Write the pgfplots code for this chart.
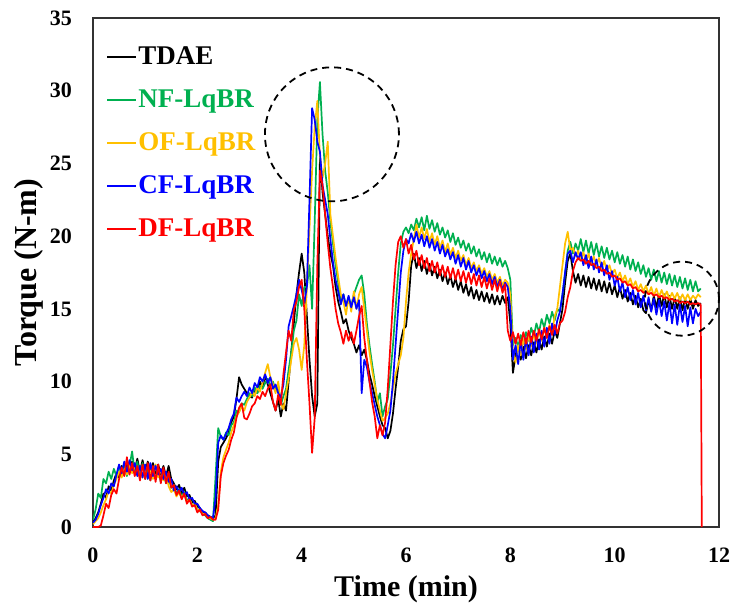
\documentclass[border=0pt]{standalone}
\usepackage{fontspec}
\setmainfont{Liberation Serif}
\usepackage{pgfplots}
\usepackage{pgfplotstable}
\pgfplotsset{compat=1.18}
\usetikzlibrary{calc}
\definecolor{cgreen}{HTML}{00B050}
\definecolor{corange}{HTML}{FFC000}
\definecolor{cblue}{HTML}{0000FF}
\definecolor{cred}{HTML}{FF0000}

% t  TDAE  NF  OF  CF  DF
\pgfplotstableread{
t T G O B R
0.00 0.3 0.5 0.2 0.3 0.0
0.05 0.6 1.2 0.4 0.5 0.0
0.10 1.0 2.3 0.6 0.9 0.0
0.15 1.6 2.0 1.0 1.5 0.1
0.20 2.3 3.3 1.5 2.0 0.8
0.25 2.0 3.0 1.9 2.6 1.6
0.30 2.8 3.8 2.5 2.3 1.3
0.35 2.5 3.3 2.3 3.0 2.2
0.40 3.2 4.0 2.9 2.8 2.6
0.45 3.7 3.5 3.3 3.6 2.3
0.50 3.4 4.2 3.8 4.3 3.3
0.55 4.2 3.6 3.4 3.7 4.1
0.60 3.6 4.4 4.0 4.5 3.5
0.65 4.4 3.5 3.6 3.8 4.8
0.70 3.8 4.2 4.3 4.6 3.6
0.75 4.5 5.2 3.7 3.9 4.4
0.80 3.9 3.7 4.3 4.4 3.5
0.85 4.7 4.5 3.5 3.5 4.2
0.90 3.8 3.4 4.1 4.2 3.2
0.95 4.6 4.4 3.4 3.4 4.3
1.00 3.7 3.3 4.0 4.3 3.3
1.05 4.5 4.0 3.5 3.3 4.4
1.10 3.8 3.2 3.9 4.4 3.2
1.15 4.4 4.1 3.3 3.5 4.2
1.20 3.7 3.3 4.3 4.2 3.1
1.25 4.3 4.0 3.4 3.6 4.3
1.30 3.6 3.1 4.0 4.0 3.0
1.35 4.2 3.7 3.2 3.3 4.1
1.40 3.5 3.0 3.7 3.8 3.0
1.45 4.2 3.4 2.8 3.1 3.8
1.50 3.3 2.7 2.4 3.3 2.7
1.55 3.0 2.9 2.6 2.5 2.9
1.60 2.6 2.3 2.1 2.8 2.2
1.65 2.9 2.6 2.4 2.4 2.5
1.70 2.3 2.1 2.0 2.7 1.9
1.75 2.7 2.4 2.3 2.2 2.3
1.80 2.1 1.8 1.7 2.4 1.6
1.85 2.2 2.0 1.9 1.9 1.9
1.90 1.7 1.5 1.5 2.0 1.4
1.95 1.8 1.6 1.6 1.6 1.5
2.00 1.4 1.2 1.2 1.6 1.0
2.05 1.3 1.1 1.1 1.3 1.2
2.10 1.0 0.9 0.9 1.1 0.8
2.15 1.0 0.8 0.9 1.0 0.9
2.20 0.8 0.6 0.7 0.8 0.6
2.25 0.7 0.5 0.6 0.7 0.7
2.30 0.6 0.4 0.5 0.6 0.5
2.35 0.8 3.5 0.6 2.0 0.5
2.40 4.5 6.8 1.5 5.8 1.2
2.45 5.5 6.2 3.8 6.3 3.5
2.50 5.8 6.0 4.8 6.0 4.4
2.55 6.1 6.5 5.3 6.4 4.9
2.60 6.5 6.3 5.8 6.8 5.3
2.65 7.2 7.0 6.5 7.4 6.0
2.70 7.6 7.2 7.0 7.8 6.5
2.75 8.8 8.0 7.6 8.9 7.5
2.80 10.3 7.9 7.9 8.6 8.2
2.85 9.8 8.5 8.3 9.0 8.5
2.90 9.5 8.4 8.0 9.3 7.5
2.95 9.2 8.8 8.6 9.0 7.4
3.00 9.0 9.2 8.9 9.6 7.8
3.05 8.9 9.0 9.3 9.2 8.3
3.10 9.5 9.6 9.0 9.9 8.5
3.15 9.2 9.2 9.6 9.6 9.0
3.20 10.0 9.7 9.3 10.3 8.8
3.25 9.6 9.5 9.9 10.0 9.3
3.30 10.4 9.9 10.6 10.5 9.0
3.35 9.8 10.2 11.2 9.9 9.5
3.40 9.2 9.7 10.3 10.3 9.8
3.45 8.6 10.0 9.8 9.5 8.6
3.50 8.0 9.4 9.2 9.8 8.0
3.55 8.8 9.8 10.0 9.2 9.1
3.60 7.6 8.4 8.5 8.9 8.4
3.65 8.5 9.0 8.1 9.8 10.5
3.70 8.0 9.5 9.2 11.5 12.0
3.75 10.0 10.8 10.2 13.8 13.5
3.80 12.0 12.0 11.5 14.5 12.8
3.85 14.0 13.5 12.6 15.2 14.9
3.90 16.0 14.2 13.0 16.0 15.5
3.95 17.5 16.0 12.2 17.0 16.5
4.00 18.8 15.2 10.8 16.3 17.0
4.05 17.5 16.5 12.5 15.4 15.0
4.10 14.5 16.5 16.5 16.5 11.5
4.15 11.5 18.0 20.5 22.5 8.5
4.20 9.0 15.0 24.5 28.8 5.1
4.25 7.6 21.0 27.5 28.0 7.5
4.30 8.5 28.0 29.3 26.5 18.0
4.35 25.5 30.6 25.5 25.8 24.5
4.40 23.0 27.0 24.0 23.5 23.5
4.45 21.5 24.5 25.0 22.5 21.5
4.50 20.0 23.0 26.5 21.5 19.5
4.55 18.8 21.0 21.5 19.8 17.8
4.60 18.0 19.5 20.0 18.2 16.5
4.65 16.5 18.0 18.5 17.0 15.0
4.70 15.5 16.8 17.2 16.2 14.0
4.75 14.8 15.5 16.0 15.3 13.4
4.80 14.0 16.0 15.5 16.0 12.6
4.85 14.3 15.2 14.6 15.2 13.5
4.90 13.5 15.8 15.8 15.9 12.8
4.95 13.0 15.2 14.8 15.1 13.4
5.00 12.6 16.0 16.2 15.8 12.6
5.05 12.0 16.5 15.0 15.0 13.5
5.10 12.5 17.0 16.0 15.6 14.5
5.15 11.8 17.3 16.5 9.2 15.2
5.20 12.2 16.0 15.0 11.5 13.0
5.25 11.5 14.0 13.5 11.0 11.5
5.30 10.5 12.5 12.0 10.0 10.0
5.35 9.8 11.2 10.8 9.2 8.6
5.40 9.0 10.0 9.8 8.4 7.6
5.45 8.3 8.6 8.8 7.6 6.1
5.50 7.6 9.2 8.0 7.0 7.0
5.55 7.0 7.6 7.3 6.4 6.3
5.60 6.8 8.3 7.5 6.1 7.2
5.65 6.1 8.8 7.8 7.0 9.5
5.70 6.6 10.5 8.5 8.0 12.5
5.75 7.8 12.5 9.5 10.0 15.5
5.80 9.5 15.0 10.5 12.5 18.0
5.85 11.0 17.5 11.2 15.0 19.6
5.90 12.8 19.5 11.8 17.5 20.0
5.95 13.6 20.3 13.0 19.0 19.2
6.00 13.8 20.6 15.5 19.8 19.8
6.05 15.5 20.2 17.5 19.5 18.8
6.10 18.0 20.8 18.8 20.2 19.4
6.15 18.8 20.4 19.8 19.6 18.4
6.20 17.8 21.2 20.8 20.3 19.0
6.25 18.5 20.6 19.9 19.5 18.0
6.30 17.6 21.3 20.6 20.1 18.7
6.35 18.3 20.4 19.8 19.3 17.8
6.40 17.4 21.4 20.5 20.0 18.5
6.45 18.1 20.5 19.6 19.2 17.6
6.50 17.3 21.1 20.2 19.8 18.3
6.55 17.9 20.3 19.4 19.0 17.5
6.60 17.1 20.9 20.0 19.6 18.2
6.65 17.7 20.1 19.2 18.8 17.3
6.70 16.9 20.6 19.7 19.4 18.0
6.75 17.5 19.9 18.9 18.6 17.2
6.80 16.7 20.4 19.5 19.1 17.9
6.85 17.3 19.6 18.7 18.4 17.1
6.90 16.5 20.2 19.2 18.9 17.8
6.95 17.1 19.4 18.5 18.1 17.0
7.00 16.3 19.9 19.0 18.7 17.7
7.05 16.9 19.2 18.3 17.9 16.9
7.10 16.1 19.7 18.7 18.5 17.6
7.15 16.7 19.0 18.0 17.7 16.8
7.20 15.9 19.5 18.5 18.3 17.5
7.25 16.5 18.8 17.8 17.5 16.7
7.30 15.7 19.3 18.2 18.0 17.4
7.35 16.3 18.6 17.6 17.3 16.6
7.40 15.6 19.1 18.0 17.8 17.3
7.45 16.2 18.4 17.4 17.1 16.5
7.50 15.5 18.9 17.8 17.6 17.2
7.55 16.1 18.2 17.2 16.9 16.4
7.60 15.4 18.8 17.6 17.4 17.1
7.65 16.0 18.1 17.0 16.7 16.3
7.70 15.3 18.6 17.4 17.2 17.0
7.75 15.9 18.0 16.8 16.5 16.2
7.80 15.3 18.5 17.2 17.0 16.9
7.85 15.9 17.9 16.6 16.3 16.1
7.90 15.4 18.3 17.0 16.8 16.7
7.95 15.8 17.8 16.8 16.5 13.5
8.00 14.0 17.0 16.0 15.0 12.8
8.05 10.6 12.5 12.0 11.5 13.4
8.10 11.8 13.0 11.3 12.5 12.6
8.15 12.6 12.4 12.5 11.2 13.3
8.20 11.5 13.2 11.8 12.8 12.5
8.25 12.4 12.6 12.9 11.5 13.4
8.30 11.6 13.4 12.2 13.0 12.6
8.35 12.5 12.8 13.2 11.8 13.5
8.40 11.8 13.7 12.4 13.1 12.7
8.45 12.7 13.1 13.3 12.0 13.5
8.50 12.0 14.0 12.6 13.3 12.8
8.55 12.9 13.4 13.5 12.2 13.6
8.60 12.2 14.3 12.8 13.5 12.9
8.65 13.1 13.7 13.7 12.4 13.7
8.70 12.4 14.6 13.0 13.7 13.0
8.75 13.3 14.0 13.9 12.6 13.8
8.80 12.6 14.8 13.3 14.0 13.2
8.85 13.5 14.2 14.5 13.2 13.9
8.90 13.0 15.0 15.0 14.2 13.3
8.95 14.0 14.8 16.5 14.8 14.0
9.00 15.0 16.0 18.0 16.0 14.2
9.05 16.8 17.5 19.5 17.5 14.8
9.10 18.3 19.0 20.3 18.8 15.8
9.15 18.8 19.6 19.0 19.0 16.5
9.20 17.6 18.8 19.2 18.2 17.6
9.25 16.8 19.5 18.6 18.9 18.2
9.30 17.4 19.0 19.0 18.4 18.5
9.35 16.6 19.8 18.4 18.9 18.3
9.40 17.3 18.9 18.9 18.0 18.4
9.45 16.5 19.7 18.2 18.7 18.1
9.50 17.2 18.8 18.8 17.8 18.3
9.55 16.4 19.6 18.1 18.6 18.0
9.60 17.1 18.7 18.6 17.7 18.1
9.65 16.3 19.5 18.0 18.4 17.8
9.70 17.0 18.6 18.5 17.5 17.9
9.75 16.2 19.3 17.8 18.2 17.6
9.80 16.9 18.5 18.3 17.3 17.7
9.85 16.1 19.2 17.6 18.0 17.4
9.90 16.8 18.4 18.0 17.0 17.5
9.95 16.0 19.0 17.4 17.6 17.2
10.00 16.6 18.2 17.7 16.6 17.3
10.05 15.8 18.9 17.1 17.2 17.0
10.10 16.5 18.1 17.5 16.2 17.1
10.15 15.7 18.7 16.9 16.8 16.8
10.20 16.3 17.9 17.3 15.8 16.9
10.25 15.5 18.6 16.7 16.5 16.6
10.30 16.1 17.7 17.1 15.6 16.7
10.35 15.3 18.4 16.5 16.3 16.4
10.40 15.9 17.6 16.9 15.3 16.5
10.45 15.1 18.2 16.3 16.1 16.2
10.50 15.7 17.4 16.7 15.1 16.3
10.55 14.9 18.0 16.2 15.9 16.1
10.60 14.7 17.2 16.6 14.9 16.2
10.65 15.6 17.8 16.0 15.8 16.0
10.70 14.9 17.0 16.5 14.8 16.1
10.75 15.9 17.7 15.9 15.7 15.9
10.80 15.1 16.9 16.4 14.6 16.0
10.85 16.0 17.6 15.8 15.6 15.8
10.90 15.2 16.8 16.3 14.5 15.9
10.95 16.0 17.5 15.8 15.5 15.7
11.00 15.1 16.7 16.2 14.2 15.8
11.05 15.9 17.4 15.7 15.4 15.6
11.10 15.0 16.6 16.1 14.0 15.7
11.15 15.8 17.3 15.7 15.3 15.5
11.20 15.0 16.5 16.1 13.9 15.6
11.25 15.8 17.2 15.6 15.3 15.4
11.30 14.9 16.4 16.0 14.1 15.5
11.35 15.7 17.1 15.6 15.2 15.4
11.40 15.0 16.3 16.0 13.8 15.5
11.45 15.7 17.0 15.6 15.1 15.3
11.50 15.0 16.2 15.9 14.0 15.4
11.55 15.6 16.9 15.7 15.0 15.3
11.60 15.2 16.2 16.0 14.5 15.4
11.65 15.4 16.4 15.8 14.8 15.3
}\torque

\begin{document}
\begin{tikzpicture}
\begin{axis}[
  width=626pt, height=509pt, scale only axis,
  xmin=0, xmax=12, ymin=0, ymax=35,
  xtick={0,2,...,12}, ytick={0,5,...,35},
  major tick length=0pt,
  axis line style={black!80, line width=1.5pt},
  /pgf/number format/assume math mode=true,
  tick label style={font=\fontsize{22}{22}\selectfont\bfseries},
  yticklabel style={inner sep=0pt, xshift=-21pt},
  xticklabel style={inner sep=0pt, yshift=-21pt},
  xlabel={\bfseries Time (min)},
  ylabel={\bfseries Torque (N-m)},
  xlabel style={font=\fontsize{30}{30}\selectfont,
    at={(axis description cs:0.5,-0.1375)}, anchor=base},
  ylabel style={font=\fontsize{32}{32}\selectfont,
    at={(axis description cs:-0.0895,0.5)}, anchor=base},
  legend cell align=left,
  legend image code/.code={\draw[#1, line width=2.2pt] (0pt,1pt) -- (29pt,1pt);},
  legend style={draw=none, fill=none, at={(axis description cs:0.0208,0.949)},
    anchor=north west, inner sep=0pt, row sep=16pt,
    font=\fontsize{27}{27}\selectfont\bfseries,
    nodes={inner sep=1pt, text height=19pt, text depth=6pt}},
  every axis plot/.append style={line width=1.7pt, line join=round},
]
\addplot[black] table[x=t, y=T] {\torque};
\addlegendentry{\textcolor{black}{TDAE}}
\addplot[cgreen] table[x=t, y=G] {\torque};
\addlegendentry{\textcolor{cgreen}{NF-LqBR}}
\addplot[corange] table[x=t, y=O] {\torque};
\addlegendentry{\textcolor{corange}{OF-LqBR}}
\addplot[cblue] table[x=t, y=B] {\torque};
\addlegendentry{\textcolor{cblue}{CF-LqBR}}
\addplot[cred] table[x=t, y=R] {\torque};
\addlegendentry{\textcolor{cred}{DF-LqBR}}
\addplot[cred, forget plot] coordinates {(11.65,15.3) (11.67,0)};
\coordinate (c1) at (axis cs:4.58,27.0);
\coordinate (c2) at (axis cs:11.29,15.7);
\end{axis}
\draw[black, line width=1.8pt, dash pattern=on 7pt off 5pt] (c1) circle (67pt);
\draw[black, line width=1.8pt, dash pattern=on 7pt off 5pt] (c2) circle (37pt);
\pgfresetboundingbox
\path[use as bounding box] ($(current axis.south west)+(-93pt,-78pt)$) rectangle ($(current axis.north east)+(13pt,18pt)$);
\end{tikzpicture}
\end{document}
